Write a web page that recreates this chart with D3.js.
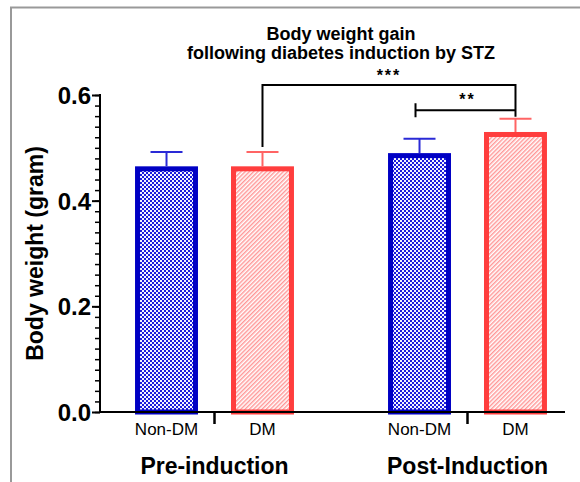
<!DOCTYPE html>
<html>
<head>
<meta charset="utf-8">
<script src="https://cdn.jsdelivr.net/npm/d3@7"></script>
<style>
  body { margin: 0; background: #fff; }
  svg { font-family: Arial, "Liberation Sans", sans-serif; }
</style>
</head>
<body>
<script>
var groups = ["Pre-induction", "Post-Induction"],
	subgroups = ["Non-DM", "DM"],
	meanPre = [0.465, 0.465],
	meanPost = [0.490, 0.530],
	semPre = [0.027, 0.027],
	semPost = [0.027, 0.025],
	yTicks = [0, 0.2, 0.4, 0.6];

var W = 580, H = 482;
var plotLeft = 100, plotRight = 565, plotTop = 95, plotBottom = 412;

var svg = d3.select('body').append('svg')
	.attr('width', W)
	.attr('height', H);

// frame lines
svg.append('line').attr('x1', 10).attr('x2', W).attr('y1', 7.5).attr('y2', 7.5)
	.attr('stroke', '#999').attr('stroke-width', 2);
svg.append('line').attr('x1', 11).attr('x2', 11).attr('y1', 7).attr('y2', H)
	.attr('stroke', '#999').attr('stroke-width', 2);

// patterns
var defs = svg.append('defs');
var chk = defs.append('pattern')
	.attr('id', 'checker')
	.attr('patternUnits', 'userSpaceOnUse')
	.attr('width', 4).attr('height', 4);
chk.append('rect').attr('width', 4).attr('height', 4).attr('fill', '#1c1cdc');
chk.append('rect').attr('width', 2).attr('height', 2).attr('fill', '#f4f4ff');
chk.append('rect').attr('x', 2).attr('y', 2).attr('width', 2).attr('height', 2).attr('fill', '#f4f4ff');

var hatch = defs.append('pattern')
	.attr('id', 'hatch')
	.attr('patternUnits', 'userSpaceOnUse')
	.attr('width', 3).attr('height', 3)
	.attr('patternTransform', 'rotate(45)');
hatch.append('rect').attr('width', 3).attr('height', 3).attr('fill', '#fff');
hatch.append('line').attr('x1', 0.75).attr('x2', 0.75).attr('y1', 0).attr('y2', 3)
	.attr('stroke', '#ff8c8c').attr('stroke-width', 1.3);

var fills = {"Non-DM": "url(#checker)", "DM": "url(#hatch)"},
	borders = {"Non-DM": "#0000c4", "DM": "#ff3d3d"},
	errCol = {"Non-DM": "#2a2ad6", "DM": "#ff6464"};

// scales
var y = d3.scaleLinear().domain([0, 0.6]).range([plotBottom, plotTop]);

var x0 = d3.scaleBand().domain(groups).range([88, 594]).padding(0);
var x1 = d3.scaleBand().domain(subgroups).range([0, x0.bandwidth()])
	.paddingInner(0.344).paddingOuter(0.49);

var rows = [];
groups.forEach(function(g, gi) {
	var m = gi === 0 ? meanPre : meanPost,
		s = gi === 0 ? semPre : semPost;
	subgroups.forEach(function(sg, si) {
		rows.push({group: g, sub: sg, mean: m[si], sem: s[si]});
	});
});

// bars
var sw = 5;
var bars = svg.append('g');
bars.selectAll('rect')
	.data(rows)
	.enter().append('rect')
	.attr('x', function(d) { return x0(d.group) + x1(d.sub) + sw / 2; })
	.attr('y', function(d) { return y(d.mean) + sw / 2; })
	.attr('width', x1.bandwidth() - sw)
	.attr('height', function(d) { return y(0) - y(d.mean) - sw / 2; })
	.attr('fill', function(d) { return fills[d.sub]; })
	.attr('stroke', function(d) { return borders[d.sub]; })
	.attr('stroke-width', sw);

// error bars (upper only)
var cx = function(d) { return x0(d.group) + x1(d.sub) + x1.bandwidth() / 2; };
var err = svg.append('g');
err.selectAll('line.v')
	.data(rows)
	.enter().append('line')
	.attr('class', 'v')
	.attr('x1', cx).attr('x2', cx)
	.attr('y1', function(d) { return y(d.mean); })
	.attr('y2', function(d) { return y(d.mean + d.sem); })
	.attr('stroke', function(d) { return errCol[d.sub]; })
	.attr('stroke-width', 2);
err.selectAll('line.cap')
	.data(rows)
	.enter().append('line')
	.attr('class', 'cap')
	.attr('x1', function(d) { return cx(d) - 16; })
	.attr('x2', function(d) { return cx(d) + 16; })
	.attr('y1', function(d) { return y(d.mean + d.sem); })
	.attr('y2', function(d) { return y(d.mean + d.sem); })
	.attr('stroke', function(d) { return errCol[d.sub]; })
	.attr('stroke-width', 2);

// y axis
var minor = d3.range(0, 31).map(function(i) { return i / 50; });
svg.append('g')
	.attr('transform', 'translate(' + plotLeft + ',0)')
	.call(d3.axisLeft(y).tickValues(minor).tickSize(5).tickFormat('').tickSizeOuter(0))
	.call(function(g) {
		g.select('.domain').remove();
		g.selectAll('line').attr('stroke', '#000').attr('stroke-width', 1.5);
	});
svg.append('g')
	.attr('transform', 'translate(' + plotLeft + ',0)')
	.call(d3.axisLeft(y).tickValues(yTicks).tickSize(8).tickSizeOuter(0).tickFormat(d3.format('.1f')))
	.call(function(g) {
		g.select('.domain').attr('stroke', '#000').attr('stroke-width', 2)
			.attr('d', 'M0,' + (plotTop - 1) + 'V' + (plotBottom + 1));
		g.selectAll('line').attr('stroke', '#000').attr('stroke-width', 2);
		g.selectAll('text')
			.attr('x', -9)
			.attr('dy', '0.36em')
			.attr('fill', '#000')
			.style('font-size', '24px')
			.style('font-weight', 'bold')
			.style('font-family', 'Arial, "Liberation Sans", sans-serif');
	});

// x axis
svg.append('g')
	.attr('transform', 'translate(0,' + plotBottom + ')')
	.call(d3.axisBottom(x0).tickSize(12).tickFormat('').tickSizeOuter(0))
	.call(function(g) {
		g.select('.domain').attr('stroke', '#000').attr('stroke-width', 2)
			.attr('d', 'M' + (plotLeft - 1) + ',0H' + plotRight);
		g.selectAll('line').attr('stroke', '#000').attr('stroke-width', 2.5);
	});

// sub labels
svg.append('g').selectAll('text')
	.data(rows)
	.enter().append('text')
	.attr('x', cx)
	.attr('y', 435)
	.attr('text-anchor', 'middle')
	.style('font-size', '17px')
	.text(function(d) { return d.sub; });

// group labels
svg.append('g').selectAll('text')
	.data(groups)
	.enter().append('text')
	.attr('x', function(d) { return x0(d) + x0.bandwidth() / 2; })
	.attr('y', 474)
	.attr('text-anchor', 'middle')
	.style('font-size', '23px')
	.style('font-weight', 'bold')
	.text(function(d) { return d; });

// y title
svg.append('text')
	.attr('transform', 'translate(43,' + ((plotTop + plotBottom) / 2) + ') rotate(-90)')
	.attr('text-anchor', 'middle')
	.style('font-size', '23px')
	.style('font-weight', 'bold')
	.text('Body weight (gram)');

// title
var title = svg.append('text')
	.attr('text-anchor', 'middle')
	.style('font-size', '18px')
	.style('font-weight', 'bold');
title.append('tspan').attr('x', 341).attr('y', 40).text('Body weight gain');
title.append('tspan').attr('x', 341).attr('y', 59).text('following diabetes induction by STZ');

// significance brackets
var preDM = rows[1], postND = rows[2], postDM = rows[3];
var bk = svg.append('g').attr('fill', 'none').attr('stroke', '#000').attr('stroke-width', 2);
var b1 = y(0.619), b2 = y(0.571);
bk.append('path')
	.attr('d', 'M' + cx(preDM) + ',' + (y(preDM.mean + preDM.sem) - 5) + 'V' + b1 +
		'H' + cx(postDM) + 'V' + (y(postDM.mean + postDM.sem) - 2));
bk.append('path')
	.attr('d', 'M' + (cx(postND) - 4) + ',' + (b2 - 7) + 'V' + (b2 + 7) +
		'M' + (cx(postND) - 4) + ',' + b2 + 'H' + cx(postDM));

svg.append('text')
	.attr('x', (cx(preDM) + cx(postDM)) / 2)
	.attr('y', b1 - 4)
	.attr('text-anchor', 'middle')
	.style('font-size', '16px')
	.style('font-weight', 'bold')
	.style('letter-spacing', '2px')
	.text('***');
svg.append('text')
	.attr('x', (cx(postND) + cx(postDM)) / 2)
	.attr('y', b2 - 5)
	.attr('text-anchor', 'middle')
	.style('font-size', '16px')
	.style('font-weight', 'bold')
	.style('letter-spacing', '2px')
	.text('**');
</script>
</body>
</html>
